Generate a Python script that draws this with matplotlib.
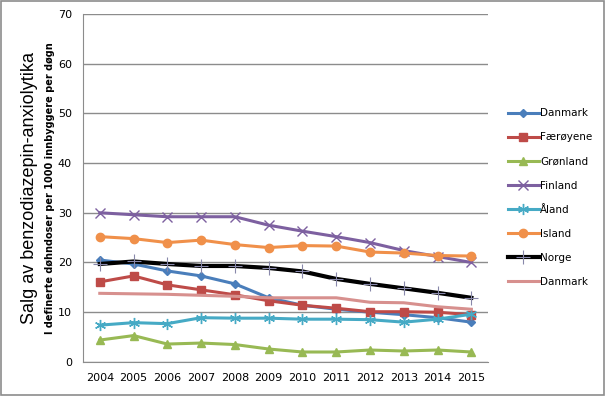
import matplotlib as mpl
mpl.use('Agg')
import matplotlib.pyplot as plt
from matplotlib.patches import Rectangle

years = ['2004', '2005', '2006', '2007', '2008', '2009', '2010', '2011', '2012', '2013', '2014', '2015']

danmark = [20.5, 19.7, 18.3, 17.3, 15.7, 12.9, 11.4, 10.6, 10.0, 9.5, 8.9, 8.0]
faeroyene = [16.1, 17.3, 15.5, 14.5, 13.5, 12.3, 11.4, 10.8, 10.1, 10.1, 10.0, 9.5]
gronland = [4.4, 5.3, 3.6, 3.8, 3.5, 2.6, 2.0, 2.0, 2.4, 2.2, 2.4, 2.0]
finland = [30.0, 29.6, 29.2, 29.2, 29.2, 27.5, 26.3, 25.2, 24.0, 22.4, 21.2, 20.0]
aland = [7.4, 7.9, 7.7, 8.9, 8.8, 8.8, 8.6, 8.6, 8.5, 8.0, 8.6, 9.6]
island = [25.2, 24.8, 24.0, 24.5, 23.6, 23.0, 23.4, 23.3, 22.1, 21.9, 21.4, 21.3]
norge = [19.7, 20.2, 19.7, 19.3, 19.3, 18.9, 18.2, 16.7, 15.7, 14.8, 13.9, 12.9]
danmark2 = [13.8, 13.7, 13.6, 13.4, 13.2, 12.9, 12.9, 12.9, 12.0, 11.9, 11.1, 10.6]

fig = plt.figure(figsize=(6.05, 3.96), dpi=100)
ax = fig.add_axes([0.137, 0.086, 0.670, 0.879])
fig.patches.append(Rectangle((0.002, 0.003), 0.996, 0.994, transform=fig.transFigure,
                             fill=False, edgecolor='#8c8c8c', lw=1.2))

x = range(len(years))
ax.plot(x, danmark, color='#4A7EBB', lw=2.2, marker='D', ms=4, label='Danmark')
ax.plot(x, faeroyene, color='#BE4B48', lw=2.2, marker='s', ms=5.5, label='Færøyene')
ax.plot(x, gronland, color='#98B954', lw=2.2, marker='^', ms=5.5, label='Grønland')
ax.plot(x, finland, color='#7D60A0', lw=2.2, marker='x', ms=7, mew=1, label='Finland')
ax.plot(x, aland, color='#46AAC5', lw=2.2, marker=(6, 2, 0), ms=8, mew=1, label='Åland')
ax.plot(x, island, color='#F0904A', lw=2.2, marker='o', ms=6, label='Island')
ax.plot(x, norge, color='#000000', lw=3, marker='+', ms=10, mew=0.8, mec='#8888aa', label='Norge')
ax.plot(x, danmark2, color='#D7908E', lw=2.2, label='Danmark')

ax.set_xlim(-0.5, len(years) - 0.5)
ax.set_ylim(0, 70)
ax.set_yticks(range(0, 71, 10))
ax.set_xticks(list(x))
ax.set_xticklabels(years)
ax.tick_params(length=0, labelsize=8, pad=8)
ax.yaxis.grid(color='#8c8c8c', lw=1)
ax.set_axisbelow(True)
for s in ['top', 'right']:
	ax.spines[s].set_visible(False)
for s in ['left', 'bottom']:
	ax.spines[s].set_color('#8c8c8c')

fig.text(0.048, 0.525, 'Salg av benzodiazepin-anxiolytika', rotation=90, ha='center', va='center',
         fontsize=13, family=['Liberation Sans', 'DejaVu Sans'])
fig.text(0.082, 0.525, 'I definerte døhndoser per 1000 innbyggere per døgn', rotation=90, ha='center',
         va='center', fontsize=7, fontweight='bold', family=['Liberation Sans Narrow', 'DejaVu Sans'])

ax.legend(loc='center left', bbox_to_anchor=(1.025, 0.472), frameon=False, fontsize=7.5,
          handlelength=3.0, handletextpad=0.1, labelspacing=1.35)

plt.savefig('out.png', dpi=100)
